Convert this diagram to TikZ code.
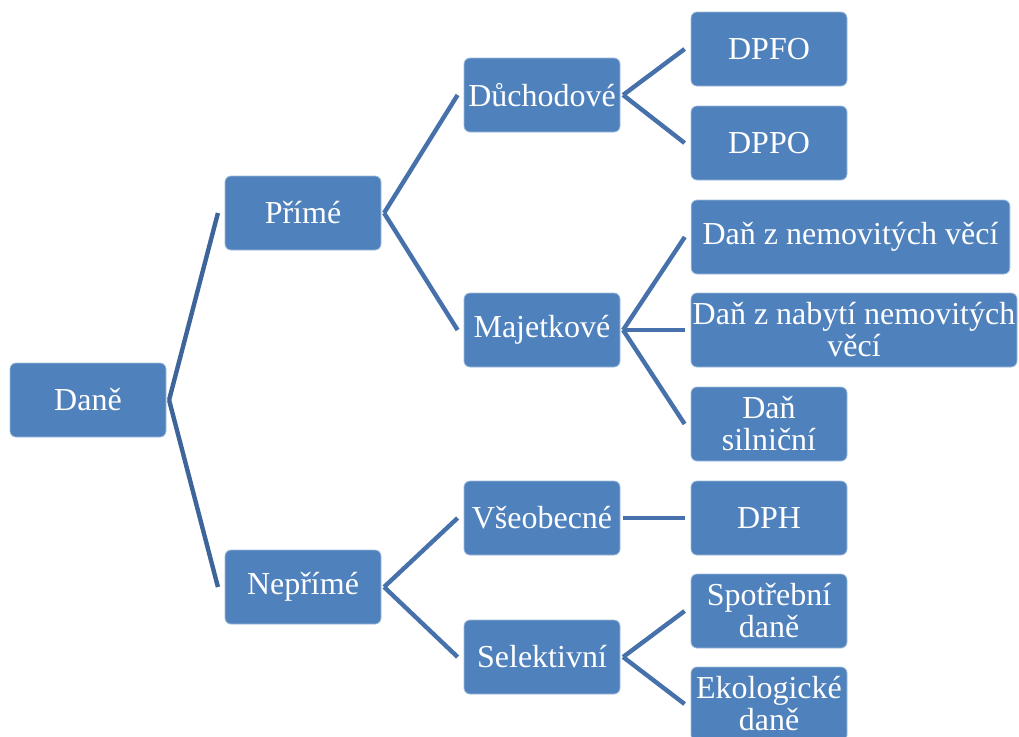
\documentclass[tikz,border=0pt]{standalone}
\usepackage{fontspec}
\setmainfont{Liberation Serif}
\usetikzlibrary{positioning}
\definecolor{boxblue}{HTML}{4F81BD}
\definecolor{linkblue}{HTML}{4771AA}
\definecolor{rootblue}{HTML}{3E6599}
\tikzset{
  box/.style={rectangle, rounded corners=4.5pt, fill=boxblue, draw=boxblue!55!white,
    line width=0.6pt, text=white, font=\fontsize{24}{24}\selectfont, align=center,
    minimum width=117pt, minimum height=55.5pt, inner sep=1pt},
  wide box/.style={box, minimum width=#1},
  link/.style={linkblue, line width=3.3pt},
  root link/.style={link, rootblue},
}

\begin{document}
\begin{tikzpicture}[x=0.75pt, y=-0.75pt]
  \useasboundingbox (0,0) rectangle (1019,736);

  % Levels 0 and 1
  \node[box] (dane) at (88,400) {Daně};
  \node[box] (prime) at (303,213) {Přímé};
  \node[box] (neprime) at (303,587) {Nepřímé};

  % Level 2
  \node[box] (duchodove) at (542,95) {Důchodové};
  \node[box] (majetkove) at (542,330) {Majetkové};
  \node[box] (vseobecne) at (542,518) {Všeobecné};
  \node[box] (selektivni) at (542,657) {Selektivní};

  % Level 3
  \node[box] (dpfo) at (769,49) {DPFO};
  \node[box] (dppo) at (769,143) {DPPO};
  \node[wide box=239pt] (nemovite) at (850.5,237) {Daň z nemovitých věcí};
  \node[wide box=244.5pt] (nabyti) at (854,330) {Daň z nabytí nemovitých\\věcí};
  \node[box] (silnicni) at (769,424) {Daň\\silniční};
  \node[box] (dph) at (769,518) {DPH};
  \node[box] (spotrebni) at (769,611) {Spotřební\\daně};
  \node[box] (ekologicke) at (769,704) {Ekologické\\daně};

  % Connectors
  \foreach \kid in {prime, neprime}
    \draw[root link] ([xshift=2pt]dane.east) -- ([xshift=-5pt]\kid.west);
  \foreach \kid in {duchodove, majetkove}
    \draw[link] ([xshift=2pt]prime.east) -- ([xshift=-4.5pt]\kid.west);
  \foreach \kid in {vseobecne, selektivni}
    \draw[link] ([xshift=2pt]neprime.east) -- ([xshift=-4.5pt]\kid.west);
  \foreach \kid in {dpfo, dppo}
    \draw[link] ([xshift=2pt]duchodove.east) -- ([xshift=-4.5pt]\kid.west);
  \foreach \kid in {nemovite, nabyti, silnicni}
    \draw[link] ([xshift=2pt]majetkove.east) -- ([xshift=-4.5pt]\kid.west);
  \draw[link] ([xshift=2pt]vseobecne.east) -- ([xshift=-4.5pt]dph.west);
  \foreach \kid in {spotrebni, ekologicke}
    \draw[link] ([xshift=2pt]selektivni.east) -- ([xshift=-4.5pt]\kid.west);

\end{tikzpicture}
\end{document}
